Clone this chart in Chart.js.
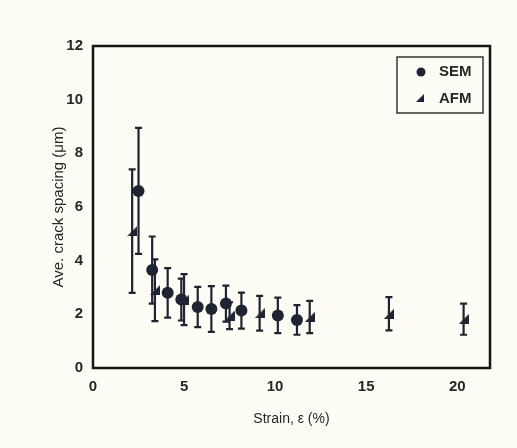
<!DOCTYPE html>
<html lang="en">
<head>
  <meta charset="UTF-8" />
  <title>Crack spacing vs strain</title>
  <script src="https://cdn.jsdelivr.net/npm/chart.js"></script>
  <style>
    body { margin: 0; background: #fefdf5; }
    #wrap { width: 517px; height: 448px; }
  </style>
</head>
<body>
  <div id="wrap"><canvas id="crackChart" width="517" height="448"></canvas></div>

  <script>
    // SEM measurements: strain (%), mean spacing (um), +/- error
    const semX = [2.5, 3.25, 4.1, 4.85, 5.75, 6.5, 7.3, 8.15, 10.15, 11.2];
    const semY = [6.6, 3.65, 2.8, 2.55, 2.27, 2.2, 2.4, 2.14, 1.96, 1.79];
    const semErr = [2.35, 1.25, 0.92, 0.78, 0.75, 0.85, 0.67, 0.67, 0.66, 0.55];

    // AFM measurements
    const afmX = [2.15, 3.4, 5.0, 7.5, 9.15, 11.9, 16.25, 20.35];
    const afmY = [5.1, 2.9, 2.55, 1.95, 2.04, 1.9, 2.02, 1.82];
    const afmErr = [2.3, 1.15, 0.95, 0.5, 0.65, 0.6, 0.62, 0.58];

    const xTicks = [0, 5, 10, 15, 20];
    const yTicks = [0, 2, 4, 6, 8, 10, 12];

    const ink = '#1e2431';
    const textColor = '#262626';
    const fontFamily = '"Liberation Sans", Arial, sans-serif';

    // little right-triangle marker used for AFM points
    function makeWedge(size) {
      const c = document.createElement('canvas');
      c.width = size; c.height = size;
      const g = c.getContext('2d');
      g.fillStyle = ink;
      g.beginPath();
      g.moveTo(0, size);
      g.lineTo(size, size);
      g.lineTo(size, 0);
      g.closePath();
      g.fill();
      return c;
    }
    const wedge = makeWedge(10);

    const toPoints = (xs, ys) => xs.map((x, i) => ({ x: x, y: ys[i] }));

    // vertical error bars with caps, drawn under the markers
    const errorBars = {
      id: 'errorBars',
      beforeDatasetsDraw(chart) {
        const ctx = chart.ctx;
        const xs = chart.scales.x, ys = chart.scales.y;
        ctx.save();
        ctx.strokeStyle = ink;
        ctx.lineWidth = 2.2;
        chart.data.datasets.forEach(ds => {
          ds.data.forEach((p, i) => {
            const e = ds.errors[i];
            const px = xs.getPixelForValue(p.x);
            const top = ys.getPixelForValue(p.y + e);
            const bot = ys.getPixelForValue(p.y - e);
            ctx.beginPath();
            ctx.moveTo(px, top); ctx.lineTo(px, bot);
            ctx.moveTo(px - 3.5, top); ctx.lineTo(px + 3.5, top);
            ctx.moveTo(px - 3.5, bot); ctx.lineTo(px + 3.5, bot);
            ctx.stroke();
          });
        });
        ctx.restore();
      }
    };

    // frame round the plot and the boxed legend in the top right
    const frameAndKey = {
      id: 'frameAndKey',
      afterDraw(chart) {
        const ctx = chart.ctx;
        const a = chart.chartArea;
        ctx.save();
        ctx.strokeStyle = '#151515';
        ctx.lineWidth = 2.5;
        ctx.strokeRect(a.left, a.top, a.right - a.left, a.bottom - a.top);

        const bx = a.right - 93, by = a.top + 11, bw = 86, bh = 56;
        ctx.lineWidth = 1.5;
        ctx.strokeStyle = '#333';
        ctx.strokeRect(bx, by, bw, bh);

        const sem = chart.data.datasets[0], afm = chart.data.datasets[1];
        ctx.fillStyle = ink;
        ctx.beginPath();
        ctx.arc(bx + 24, by + 15, 4.5, 0, Math.PI * 2);
        ctx.fill();
        ctx.drawImage(wedge, bx + 19, by + 37, 8, 8);

        ctx.fillStyle = textColor;
        ctx.font = 'bold 15px ' + fontFamily;
        ctx.textBaseline = 'middle';
        ctx.fillText(sem.label, bx + 42, by + 15);
        ctx.fillText(afm.label, bx + 42, by + 42);
        ctx.restore();
      }
    };

    new Chart(document.getElementById('crackChart'), {
      type: 'scatter',
      data: {
        datasets: [
          { label: 'SEM', data: toPoints(semX, semY), errors: semErr,
            pointStyle: 'circle', pointRadius: 6, backgroundColor: ink, borderColor: ink, borderWidth: 0 },
          { label: 'AFM', data: toPoints(afmX, afmY), errors: afmErr,
            pointStyle: wedge, pointRadius: 5, backgroundColor: ink, borderColor: ink }
        ]
      },
      options: {
        responsive: false,
        animation: false,
        events: [],
        layout: { padding: { left: 0, top: 46, right: 27, bottom: 0 } },
        plugins: { legend: { display: false }, tooltip: { enabled: false } },
        scales: {
          x: {
            type: 'linear', min: 0, max: 21.8,
            afterBuildTicks: axis => { axis.ticks = xTicks.map(v => ({ value: v })); },
            afterFit: scale => { scale.height = 80; },
            grid: { display: false, drawTicks: false },
            border: { display: false },
            ticks: { padding: 10, color: textColor, font: { family: fontFamily, size: 15, weight: 'bold' } },
            title: { display: true, text: 'Strain, ε (%)', color: textColor, padding: { top: 0, bottom: 20 },
                     font: { family: fontFamily, size: 14 } }
          },
          y: {
            type: 'linear', min: 0, max: 12,
            afterBuildTicks: axis => { axis.ticks = yTicks.map(v => ({ value: v })); },
            afterFit: scale => { scale.width = 93; },
            grid: { display: false, drawTicks: false },
            border: { display: false },
            ticks: { padding: 10, color: textColor, font: { family: fontFamily, size: 15, weight: 'bold' } },
            title: { display: true, text: 'Ave. crack spacing (μm)', color: textColor, padding: { top: 50, bottom: 0 },
                     font: { family: fontFamily, size: 15 } }
          }
        }
      },
      plugins: [errorBars, frameAndKey]
    });
  </script>
</body>
</html>
